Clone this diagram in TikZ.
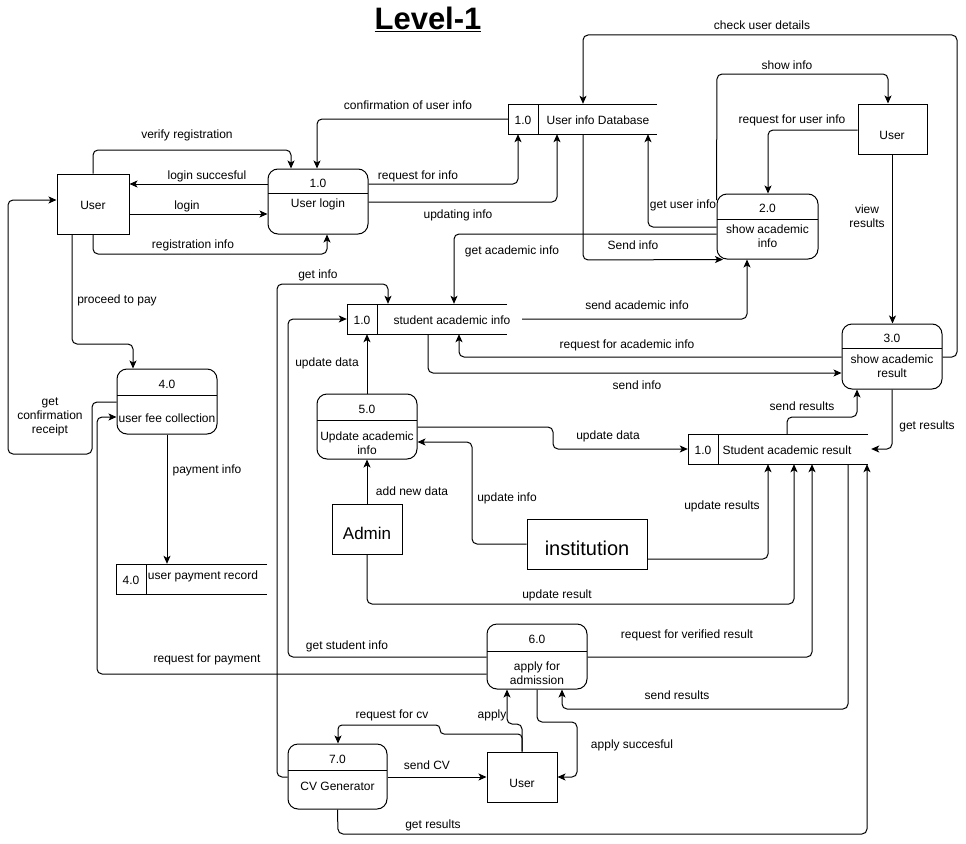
\documentclass[tikz,border=0pt]{standalone}
\usepackage{fontspec}
\setmainfont{Liberation Sans}
\usetikzlibrary{arrows.meta,fit}

% process: name, x1, y1, x2, y2, divider y, number, text, text y
\newcommand\dfdproc[9]{%
  \node[procbox, fit={(#2,#3) (#4,#5)}] (#1) {};
  \draw[thinline] (#2,#6) -- (#4,#6);
  \node at ({(#2+#4)/2},{(#3+#6)/2+2}) {#7};
  \node[lbl] at ({(#2+#4)/2},#9) {#8};
}
% data store: name, x1, y1, x2, y2, divider x, number
\newcommand\dfdstore[7]{%
  \node[fit={(#2,#3) (#4,#5)}, inner sep=0pt] (#1) {};
  \draw[thinline] (#4,#3) -- (#2,#3) -- (#2,#5) -- (#4,#5);
  \draw[thinline] (#6,#3) -- (#6,#5);
  \node[yshift=-1pt] at ({(#2+#6)/2},{(#3+#5)/2}) {#7};
}

\begin{document}
\begin{tikzpicture}[x=1pt,y=-1pt,
  every node/.style={font=\fontsize{12}{14}\selectfont},
  lbl/.style={inner sep=0pt, align=center, yshift=-1.5pt},
  entity/.style={draw, line width=1pt, inner sep=0pt},
  procbox/.style={draw, line width=1pt, rounded corners=10pt, inner sep=0pt},
  thinline/.style={line width=1pt},
  flow/.style={draw, line width=1pt, rounded corners=5pt,
               -{Stealth[length=8pt,width=7pt,inset=2pt]}}]

\fill[white] (0,0) rectangle (966,843);
\useasboundingbox (0,0) rectangle (966,843);

% title
\node[font=\fontsize{31}{36}\selectfont\bfseries] (title) at (428,19) {\underline{Level-1}};

% external entities
\node[entity, fit={(57,174) (129,234)}] (U1) {};
\node[lbl] at (93,204) {User};
\node[entity, fit={(858,104) (927,154)}] (U2) {};
\node[lbl] at (892,134) {User};
\node[entity, fit={(332,504) (402,554)}] (ADM) {};
\node[font=\fontsize{17}{20}\selectfont] at (367,533) {Admin};
\node[entity, fit={(527,519) (647,569)}] (INST) {};
\node[font=\fontsize{20}{24}\selectfont] at (587,548) {institution};
\node[entity, fit={(487,752) (557,802)}] (U3) {};
\node[lbl] at (522,782) {User};

% processes
\dfdproc{P1}{268}{169}{368}{234}{193}{1.0}{User login}{203}
\dfdproc{P2}{717}{194}{818}{259}{219}{2.0}{show academic\\info}{235}
\dfdproc{P3}{842}{324}{942}{389}{348}{3.0}{show academic\\result}{364.5}
\dfdproc{P4}{117}{369}{217}{434}{395}{4.0}{user fee collection}{417}
\dfdproc{P5}{317}{394}{417}{459}{420}{5.0}{Update academic\\info}{442}
\dfdproc{P6}{487}{624}{587}{689}{651}{6.0}{apply for\\admission}{672}
\dfdproc{P7}{288}{744}{387}{809}{770}{7.0}{CV Generator}{785}

% data stores
\dfdstore{D1}{508}{104}{657}{134}{538}{1.0}
\node[lbl] at (598,119) {User info Database};
\dfdstore{D2}{347}{304}{507}{334}{377}{1.0}
\node[lbl] at (452,319) {student academic info};
\dfdstore{D3}{688}{434}{868}{464}{718}{1.0}
\node[lbl] at (787,449) {Student academic result};
\dfdstore{D4}{116}{564}{267}{594}{146}{4.0}
\node[lbl] at (203,575) {user payment record};

% ---- flows around user login
\draw[flow] (U1.north) -- (93,150) -- (291,150) -- (291,0 |- P1.north);
\node[lbl] at (187,134) {verify registration};
\draw[flow] (P1.west |- 0,184) -- (U1.east |- 0,184);
\node[lbl] at (207,175) {login succesful};
\draw[flow] (U1.east |- 0,214) -- (P1.west |- 0,214);
\node[lbl] at (187,205) {login};
\draw[flow] (U1.south) -- (93,254) -- (327,254) -- (327,0 |- P1.south);
\node[lbl] at (193,244) {registration info};

\draw[flow] (D1.west) -- (317,119) -- (317,0 |- P1.north);
\node[lbl] at (408,104) {confirmation of user info};
\draw[flow] (P1.east |- 0,184) -- (518,184) -- (518,0 |- D1.south);
\node[lbl] at (418,175) {request for info};
\draw[flow] (P1.east |- 0,202) -- (557,202) -- (557,0 |- D1.south);
\node[lbl] at (458,214) {updating info};

% ---- flows around show academic info
\draw[flow] (P3.east |- 0,357) -- (957,357) -- (957,35) -- (583,35) -- (583,0 |- D1.north);
\node[lbl] at (762,24) {check user details};
\draw[flow] (P2.west |- 0,200) -- (717,74) -- (888,74) -- (888,0 |- U2.north);
\node[lbl] at (787,64) {show info};
\draw[flow] (U2.west |- 0,130) -- (768,130) -- (768,0 |- P2.north);
\node[lbl] at (792,119) {request for user info};
\draw[flow] (P2.west |- 0,227) -- (648,227) -- (648,0 |- D1.south);
\node[lbl] at (683,204) {get user info};
\draw[flow] (583,0 |- D1.south) -- (583,260) -- (723,0 |- P2.south);
\node[lbl] at (633,244) {Send info};
\draw[flow] (P2.west |- 0,234) -- (454,234) -- (454,0 |- D2.north);
\node[lbl] at (512,250) {get academic info};
\draw[flow] ([xshift=15pt]D2.east) -- (747,319) -- (747,0 |- P2.south);
\node[lbl] at (637,304) {send academic info};

% ---- flows around show academic result
\draw[flow] (P3.west |- 0,357) -- (459,357) -- (459,0 |- D2.south);
\node[lbl] at (627,344) {request for academic info};
\draw[flow] (428,0 |- D2.south) -- (428,373) -- (P3.west |- 0,373);
\node[lbl] at (637,384) {send info};
\draw[flow] (U2.south) -- (U2.south |- P3.north);
\node[lbl] at (867,215) {view\\results};
\draw[flow] (P3.south) -- (892,449) -- ([xshift=3pt]D3.east);
\node[lbl] at (927,425) {get results};
\draw[flow] (787,0 |- D3.north) -- (787,417) -- (857,417) -- (857,0 |- P3.south);
\node[lbl] at (802,405) {send results};

% ---- flows around update academic info
\draw[flow] (P5.east |- 0,427) -- (553,427) -- (553,449) -- (D3.west);
\node[lbl] at (608,435) {update data};
\draw[flow] (P5.north) -- (P5.north |- D2.south);
\node[lbl] at (327,362) {update data};
\draw[flow] (ADM.north) -- (ADM.north |- P5.south);
\node[lbl] at (412,490) {add new data};
\draw[flow] (INST.west) -- (472,544) -- (472,442) -- (P5.east |- 0,442);
\node[lbl] at (507,497) {update info};
\draw[flow] (INST.east |- 0,559) -- (768,559) -- (768,0 |- D3.south);
\node[lbl] at (722,505) {update results};
\draw[flow] (ADM.south) -- (367,604) -- (794,604) -- (794,0 |- D3.south);
\node[lbl] at (557,594) {update result};

% ---- flows on the left
\draw[flow] (P7.west |- 0,777) -- (277,777) -- (277,284) -- (388,284) -- (388,0 |- D2.north);
\node[lbl] at (318,274) {get info};
\draw[flow] (P6.west |- 0,657) -- (288,657) -- (288,319) -- (D2.west);
\node[lbl] at (347,645) {get student info};
\draw[flow] (P6.west |- 0,674) -- (97,674) -- (97,417) -- (P4.west |- 0,417);
\node[lbl] at (207,658) {request for payment};
\draw[flow] (P4.west |- 0,402) -- (92,402) -- (92,454) -- (8,454) -- (8,200) -- (U1.west |- 0,200);
\node[lbl] at (50,415) {get\\confirmation\\receipt};
\draw[flow] (72,0 |- U1.south) -- (72,344) -- (133,344) -- (133,0 |- P4.north);
\node[lbl] at (117,299) {proceed to pay};
\draw[flow] (167,0 |- P4.south) -- (167,0 |- D4.north);
\node[lbl] at (207,469) {payment info};

% ---- flows around apply for admission
\draw[flow] (P6.east |- 0,657) -- (812,657) -- (812,0 |- D3.south);
\node[lbl] at (687,634) {request for verified result};
\draw[flow] (848,0 |- D3.south) -- (848,709) -- (562,709) -- (562,0 |- P6.south);
\node[lbl] at (677,694) {send results};
\draw[flow] (P7.south) -- (338,834) -- (867,834) -- (867,0 |- D3.south);
\node[lbl] at (433,824) {get results};
\draw[flow] (U3.north) -- (522,724) -- (507,724) -- (507,0 |- P6.south);
\node[lbl] at (492,714) {apply};
\draw[flow, rounded corners=4pt] (U3.north) -- (522,734) -- (440,734) -- (440,725) -- (338,725) -- (338,0 |- P7.north);
\node[lbl] at (392,714) {request for cv};
\draw[flow] (P7.east |- 0,777) -- (U3.west |- 0,777);
\node[lbl] at (427,764) {send CV};
\draw[flow] (537,0 |- P6.south) -- (537,722) -- (577,722) -- (577,777) -- (U3.east);
\node[lbl] at (632,744) {apply succesful};

\end{tikzpicture}
\end{document}
